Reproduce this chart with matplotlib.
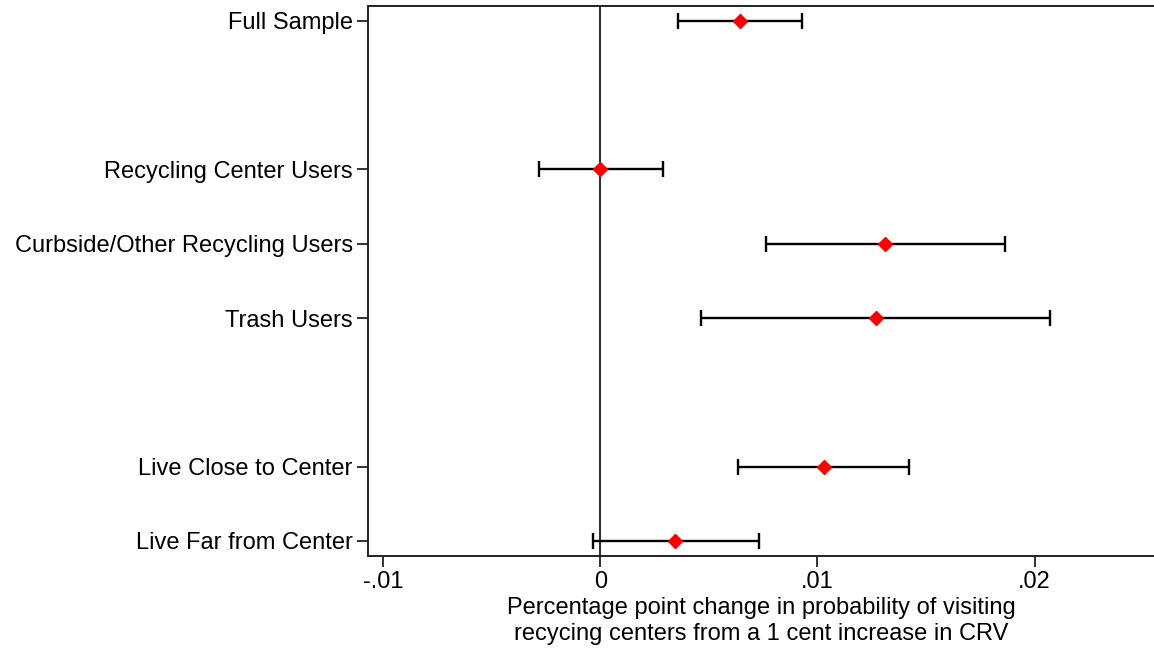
import matplotlib.pyplot as plt
import numpy as np

# coefficient estimates and 95% CIs
groups = ["Full Sample", "Recycling Center Users", "Curbside/Other Recycling Users",
          "Trash Users", "Live Close to Center", "Live Far from Center"]
positions = [1, 3, 4, 5, 7, 8]
coef = [0.00641, 0.0000, 0.01312, 0.01270, 0.01029, 0.00346]
ci_low = [0.00357, -0.00284, 0.00761, 0.00464, 0.00633, -0.00034]
ci_high = [0.00927, 0.00288, 0.01865, 0.02072, 0.01422, 0.00729]
xticks = [-0.01, 0, 0.01, 0.02]
xticklabels = ["-.01", "0", ".01", ".02"]

plt.rcParams['font.family'] = ['Liberation Sans', 'DejaVu Sans']

fig = plt.figure(figsize=(11.54, 6.48), dpi=100)
ax = fig.add_axes([0.3189, 0.1424, 0.6811, 0.8483])

coef = np.array(coef)
err = [coef - np.array(ci_low), np.array(ci_high) - coef]
ax.axvline(0, color="#333333", linewidth=1.5, zorder=1)
ax.errorbar(coef, positions, xerr=err, fmt="none", ecolor="black",
            elinewidth=1.7, capsize=6, capthick=1.7, zorder=2)
ax.plot(coef, positions, "D", color="red", markersize=7, zorder=3)

ax.set_xlim(-0.0107, 0.0255)
ax.set_ylim(8.2, 0.8)
ax.set_yticks(positions)
ax.set_yticklabels(groups)
ax.set_xticks(xticks)
ax.set_xticklabels(xticklabels)
ax.tick_params(axis="both", labelsize=17, length=8, width=1.3, color="#222222")
ax.tick_params(axis="y", pad=3)
ax.tick_params(axis="x", pad=3)

for s in ["left", "top", "bottom"]:
    ax.spines[s].set_color("#222222")
    ax.spines[s].set_linewidth(1.4)
ax.spines["right"].set_visible(False)

ax.set_xlabel("Percentage point change in probability of visiting\nrecycing centers from a 1 cent increase in CRV",
              fontsize=17, linespacing=1.2, labelpad=3)

plt.savefig("out.png", dpi=100)
